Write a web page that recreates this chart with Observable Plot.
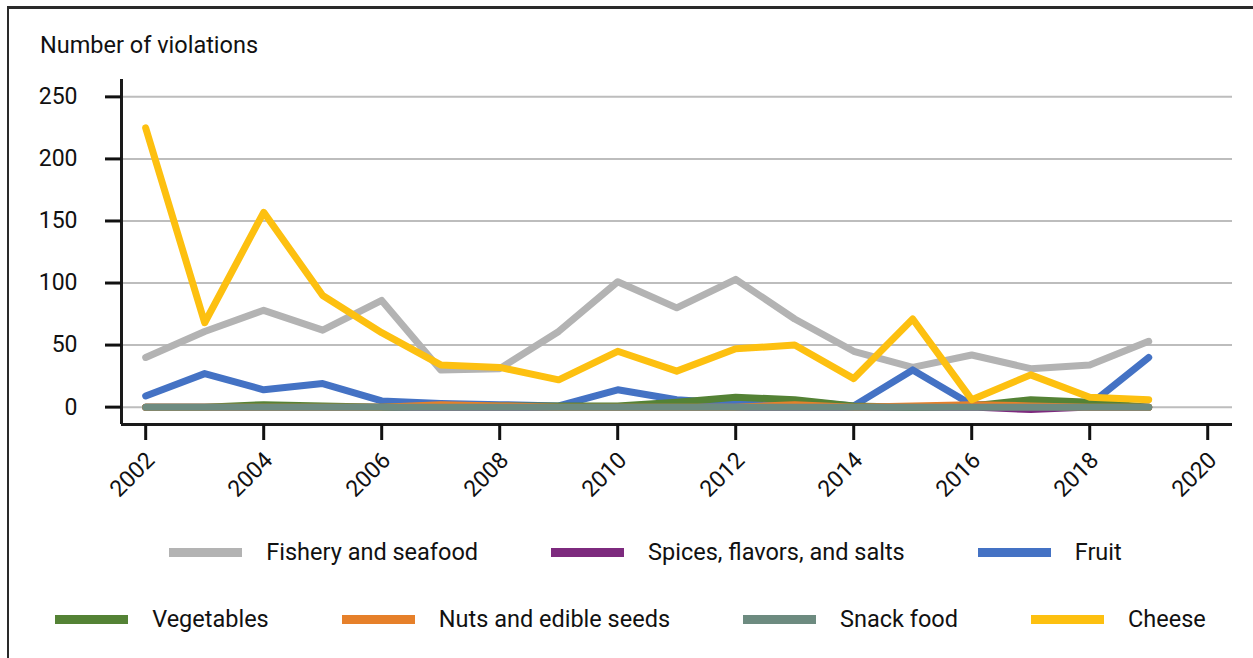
<!DOCTYPE html>
<html>
<head>
<meta charset="utf-8">
<script src="https://cdn.jsdelivr.net/npm/d3@7"></script>
<script src="https://cdn.jsdelivr.net/npm/@observablehq/plot@0.6"></script>
<style>
  body { margin: 0; background: #fff; }
  #wrap { position: relative; width: 1253px; height: 658px; overflow: hidden; font-family: Roboto, "Liberation Sans", sans-serif; color: #111; }
  #frame { position: absolute; left: 7px; top: 6px; right: -4px; bottom: -4px; border-top: 3px solid #2a2a2a; border-left: 2px solid #2a2a2a; pointer-events: none; }
  #ylabel { position: absolute; left: 40px; top: 31px; font-size: 23.5px; }
  #chart { position: absolute; left: 0; top: 0; }
  #legend { position: absolute; left: 8px; right: 0; top: 535px; font-size: 23.5px; }
  .row { display: flex; justify-content: center; gap: 73px; height: 34px; align-items: center; }
  .row.first { padding-left: 30px; }
  .row + .row { margin-top: 33px; }
  .item { display: flex; align-items: center; gap: 24px; white-space: nowrap; }
  .sw { width: 73px; height: 9px; }
</style>
</head>
<body>
<div id="wrap">
  <div id="chart"></div>
  <div id="ylabel">Number of violations</div>
  <div id="legend"></div>
  <div id="frame"></div>
</div>
<script>
// Violations per year, 2002–2019
const years = d3.range(2002, 2020);
const fishery    = [40, 61, 78, 62, 86, 30, 31, 61, 101, 80, 103, 71, 45, 32, 42, 31, 34, 53];
const spices     = [0, 0, 0, 0, 0, 0, 0, 0, 0, 0, 0, 0, 0, 0, 0, -2, 0, 0];
const fruit      = [9, 27, 14, 19, 5, 3, 2, 1, 14, 6, 3, 5, 1, 30, 2, 2, 2, 40];
const vegetables = [0, 0, 2, 1, 0, 1, 1, 1, 1, 4, 8, 6, 1, 0, 1, 6, 4, 0];
const nuts       = [0, 0, 0, 0, 0, 2, 1, 0, 0, 0, 0, 2, 0, 1, 2, 1, 0, 0];
const snack      = [0, 0, 0, 0, 0, 0, 0, 0, 0, 0, 0, 0, 0, 0, 0, 0, 0, 0];
const cheese     = [225, 68, 157, 90, 60, 34, 32, 22, 45, 29, 47, 50, 23, 71, 6, 26, 8, 6];

const seriesNames = ["Fishery and seafood", "Spices, flavors, and salts", "Fruit", "Vegetables", "Nuts and edible seeds", "Snack food", "Cheese"];
const seriesValues = [fishery, spices, fruit, vegetables, nuts, snack, cheese];
const seriesColors = ["#b3b3b3", "#7d2a7e", "#4472c4", "#548235", "#e6802a", "#6d8b80", "#fdc010"];

const yTicks = [0, 50, 100, 150, 200, 250];
const xTicks = d3.range(2002, 2021, 2);

const xDomain = [2001.59, 2020.42];
const yDomain = [-14, 264];

// long format: one row per series/year, in drawing order (cheese on top)
const rows = seriesNames.flatMap((name, i) =>
  years.map((year, j) => ({series: name, year, value: seriesValues[i][j]}))
);

const chart = Plot.plot({
  width: 1253,
  height: 500,
  marginLeft: 121,
  marginRight: 21,
  marginTop: 79,
  marginBottom: 76,
  style: {background: "transparent", fontSize: "23px", fontFamily: "Roboto, 'Liberation Sans', sans-serif", color: "#111", overflow: "visible"},
  x: {domain: xDomain},
  y: {domain: yDomain},
  color: {domain: seriesNames, range: seriesColors},
  marks: [
    Plot.gridY(yTicks, {stroke: "#bdbdbd", strokeOpacity: 1, strokeWidth: 2}),
    Plot.line(rows, {x: "year", y: "value", z: "series", stroke: "series", strokeWidth: 7, strokeLinecap: "round", strokeLinejoin: "round"}),
    Plot.ruleX([xDomain[0]], {stroke: "#1a1a1a", strokeWidth: 3}),
    Plot.ruleY([yDomain[0]], {stroke: "#1a1a1a", strokeWidth: 3}),
    Plot.axisY({ticks: yTicks, tickSize: 16, tickPadding: 28, strokeWidth: 3, stroke: "#111", label: null}),
    // x tick marks
    Plot.axisX({ticks: xTicks, tickFormat: () => "", tickSize: 16, strokeWidth: 3, stroke: "#111", label: null}),
    // rotated year labels
    Plot.axisX({ticks: xTicks, tickFormat: d => String(d), tickRotate: -45, tickSize: 0, tickPadding: 32, dx: 5, label: null})
  ]
});
document.getElementById("chart").append(chart);

// legend rows
const legend = document.getElementById("legend");
[[0, 1, 2], [3, 4, 5, 6]].forEach((idx, r) => {
  const row = document.createElement("div");
  row.className = r === 0 ? "row first" : "row";
  idx.forEach(i => {
    const item = document.createElement("div");
    item.className = "item";
    const sw = document.createElement("span");
    sw.className = "sw";
    sw.style.background = seriesColors[i];
    const label = document.createElement("span");
    label.textContent = seriesNames[i];
    item.append(sw, label);
    row.append(item);
  });
  legend.append(row);
});
</script>
</body>
</html>
